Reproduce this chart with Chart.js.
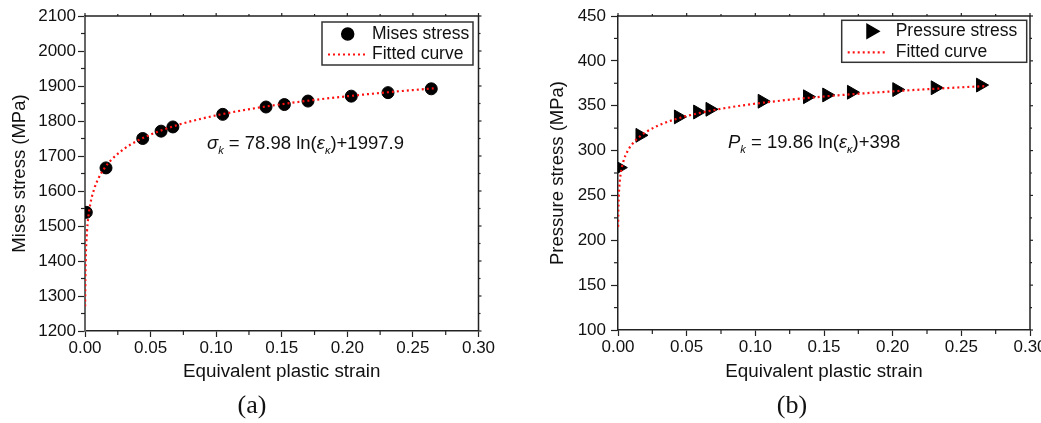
<!DOCTYPE html>
<html>
<head>
<meta charset="utf-8">
<script src="https://cdn.jsdelivr.net/npm/chart.js@4/dist/chart.umd.min.js"></script>
<style>
  html, body { margin: 0; padding: 0; background: #fff; overflow: hidden; width: 1041px; height: 423px; }
  .panel { position: absolute; top: 0; }
  .panel canvas { display: block; }
  .eq { position: absolute; font-family: "Liberation Sans", Arial, sans-serif; font-size: 18.5px; color: #111;
        white-space: nowrap; line-height: 18px; height: 18px; }
  .eq sub { font-size: 11px; line-height: 0; vertical-align: -5px; }
  .cap { position: absolute; font-family: "Liberation Serif", "Times New Roman", serif; font-size: 26px; color: #111;
         transform: translate(-50%, -50%); line-height: 1; }
</style>
</head>
<body>
<div class="panel" style="left:0;width:520px;height:423px"><canvas id="chartA" width="520" height="423"></canvas></div>
<div class="panel" style="left:520px;width:540px;height:423px"><canvas id="chartB" width="540" height="423"></canvas></div>
<div class="eq" style="left:207px;top:134px"><i>σ</i><sub><i>k</i></sub> = 78.98 ln(<i>ε</i><sub><i>κ</i></sub>)+1997.9</div>
<div class="eq" style="left:728px;top:133px"><i>P</i><sub><i>k</i></sub> = 19.86 ln(<i>ε</i><sub><i>κ</i></sub>)+398</div>
<div class="cap" style="left:252px;top:405px">(a)</div>
<div class="cap" style="left:792px;top:405px">(b)</div>
<script>
// Measured equivalent plastic strain at each sampling point
const strain = [0.001, 0.016, 0.044, 0.058, 0.067, 0.105, 0.138, 0.152, 0.170, 0.203, 0.231, 0.264];
// Mises stress (MPa) at those strains
const misesStress = [1539, 1666, 1750, 1771, 1783, 1819, 1840, 1847, 1857, 1871, 1881, 1892];
// Pressure stress (MPa) at those strains
const pressureStress = [281, 317, 337.5, 343, 346, 355, 360, 362, 365, 368, 370, 373];

// Fitted curves sampled along the strain axis
const fitStrain = [0.0001, 0.0002, 0.0005, 0.001, 0.002, 0.004, 0.007, 0.01, 0.015, 0.02, 0.03,
                   0.04, 0.05, 0.07, 0.09, 0.12, 0.15, 0.18, 0.21, 0.24, 0.267];
const fitMises = [1270.5, 1325.2, 1397.6, 1452.3, 1507.1, 1561.8, 1606.0, 1634.2, 1666.2, 1688.9, 1721.0,
                  1743.7, 1761.3, 1787.9, 1807.7, 1830.4, 1848.1, 1862.5, 1874.6, 1885.2, 1893.6];
const fitPressure = [215.1, 228.8, 247.0, 260.8, 274.6, 288.3, 299.5, 306.5, 314.6, 320.3, 328.4,
                     334.1, 338.5, 345.2, 350.2, 355.9, 360.3, 363.9, 367.0, 369.7, 371.8];

// Axis tick settings
const strainTicks = { min: 0, max: 0.3, step: 0.05 };
const misesTicks = { min: 1200, max: 2100, step: 100 };
const pressureTicks = { min: 100, max: 450, step: 50 };

const FONT = '"Liberation Sans", Arial, sans-serif';
Chart.defaults.font.family = FONT;
Chart.defaults.color = '#111';

const toPoints = (xs, ys) => xs.map((v, i) => ({ x: v, y: ys[i] }));

// Frame, minor ticks and the boxed legend
const framePlugin = {
  id: 'frameLegend',
  afterDraw(chart, args, opts) {
    const { ctx, chartArea: a, scales: { x, y } } = chart;
    ctx.save();
    ctx.strokeStyle = '#222';
    ctx.lineWidth = 1.5;
    ctx.beginPath();
    ctx.moveTo(a.left, a.top);
    ctx.lineTo(a.right, a.top);
    ctx.lineTo(a.right, a.bottom);
    ctx.stroke();

    const line = (x1, y1, x2, y2) => { ctx.beginPath(); ctx.moveTo(x1, y1); ctx.lineTo(x2, y2); ctx.stroke(); };
    const mids = s => s.ticks.slice(1).map((t, i) => (t.value + s.ticks[i].value) / 2);
    ctx.lineWidth = 1.2;
    mids(x).forEach(v => { const p = x.getPixelForValue(v); line(p, a.bottom, p, a.bottom + 4); line(p, a.top, p, a.top - 2); });
    mids(y).forEach(v => { const p = y.getPixelForValue(v); line(a.left, p, a.left - 4, p); line(a.right, p, a.right + 2, p); });
    x.ticks.forEach(t => { const p = x.getPixelForValue(t.value); line(p, a.top, p, a.top - 3); });
    y.ticks.forEach(t => { const p = y.getPixelForValue(t.value); line(a.right, p, a.right + 3, p); });

    // legend box
    const b = opts.box;
    ctx.lineWidth = 1.5;
    ctx.strokeStyle = '#333';
    ctx.fillStyle = '#fff';
    ctx.fillRect(b.x, b.y, b.w, b.h);
    ctx.strokeRect(b.x, b.y, b.w, b.h);

    const pts = chart.data.datasets[1];
    const fit = chart.data.datasets[0];
    ctx.fillStyle = pts.backgroundColor;
    ctx.strokeStyle = pts.borderColor;
    Chart.helpers.drawPoint(ctx, { pointStyle: pts.pointStyle, rotation: pts.rotation || 0,
      radius: pts.pointRadius, borderWidth: 1 }, b.x + opts.markerX, b.y + opts.row1);

    ctx.strokeStyle = fit.borderColor;
    ctx.lineWidth = fit.borderWidth;
    ctx.setLineDash(fit.borderDash);
    line(b.x + opts.lineX0, b.y + opts.row2, b.x + opts.lineX1, b.y + opts.row2);
    ctx.setLineDash([]);

    ctx.fillStyle = '#111';
    ctx.font = '17.5px ' + FONT;
    ctx.textBaseline = 'middle';
    ctx.textAlign = 'left';
    ctx.fillText(pts.label, b.x + opts.textX, b.y + opts.row1);
    ctx.fillText(fit.label, b.x + opts.textX, b.y + opts.row2);
    ctx.restore();
  }
};

function makeChart(id, cfg) {
  return new Chart(document.getElementById(id), {
    type: 'scatter',
    data: {
      datasets: [
        {
          label: 'Fitted curve',
          data: toPoints(fitStrain, cfg.fit),
          showLine: true,
          borderColor: '#ff1010',
          borderWidth: 2.2,
          borderDash: [2, 3],
          pointRadius: 0,
          cubicInterpolationMode: 'monotone',
          order: 0
        },
        {
          label: cfg.label,
          data: toPoints(strain, cfg.values),
          showLine: false,
          pointStyle: cfg.pointStyle,
          rotation: cfg.rotation,
          pointRadius: cfg.radius,
          backgroundColor: '#000',
          borderColor: '#000',
          borderWidth: 1,
          order: 1
        }
      ]
    },
    options: {
      responsive: false,
      animation: false,
      events: [],
      layout: { padding: { top: 16, left: 0, bottom: 0, right: cfg.padRight } },
      plugins: {
        legend: { display: false },
        tooltip: { enabled: false },
        frameLegend: cfg.legend
      },
      scales: {
        x: {
          type: 'linear',
          min: strainTicks.min, max: strainTicks.max,
          afterFit: s => { s.height = cfg.xHeight; },
          border: { display: true, color: '#222', width: 1.5 },
          grid: { drawOnChartArea: false, tickLength: 6, tickColor: '#222', tickWidth: 1.2 },
          ticks: { stepSize: strainTicks.step, padding: 1, maxRotation: 0, autoSkip: false,
                   font: { size: 17 }, callback: v => v.toFixed(2) },
          title: { display: true, text: 'Equivalent plastic strain', font: { size: 18.8 },
                   padding: { top: 0, bottom: 40 } }
        },
        y: {
          type: 'linear',
          min: cfg.yTicks.min, max: cfg.yTicks.max,
          afterFit: s => { s.width = cfg.yWidth; },
          border: { display: true, color: cfg.yAxisColor, width: cfg.yAxisWidth },
          grid: { drawOnChartArea: false, tickLength: 7, tickColor: '#222', tickWidth: 1.2 },
          ticks: { stepSize: cfg.yTicks.step, padding: cfg.yPad, font: { size: 17 },
                   callback: v => String(v) },
          title: { display: true, text: cfg.yTitle, font: { size: 18.5 },
                   padding: { top: cfg.yTitlePad, bottom: 0 } }
        }
      }
    },
    plugins: [framePlugin]
  });
}

makeChart('chartA', {
  label: 'Mises stress', values: misesStress, fit: fitMises,
  pointStyle: 'circle', rotation: 0, radius: 6,
  yTicks: misesTicks, yTitle: 'Mises stress (MPa)',
  yWidth: 85, yPad: 2, yTitlePad: 9, padRight: 41.5, xHeight: 92,
  yAxisColor: '#666', yAxisWidth: 2,
  legend: { box: { x: 322, y: 22, w: 151, h: 43 }, markerX: 25.7, row1: 12, row2: 32.5,
            lineX0: 6, lineX1: 43, textX: 50 }
});

makeChart('chartB', {
  label: 'Pressure stress', values: pressureStress, fit: fitPressure,
  pointStyle: 'triangle', rotation: 90, radius: 8,
  yTicks: pressureTicks, yTitle: 'Pressure stress (MPa)',
  yWidth: 98, yPad: 5, yTitlePad: 27, padRight: 30, xHeight: 93,
  yAxisColor: '#222', yAxisWidth: 1.5,
  legend: { box: { x: 321.7, y: 20.3, w: 185, h: 42 }, markerX: 29.3, row1: 11, row2: 32,
            lineX0: 6, lineX1: 45, textX: 54 }
});
</script>
</body>
</html>
